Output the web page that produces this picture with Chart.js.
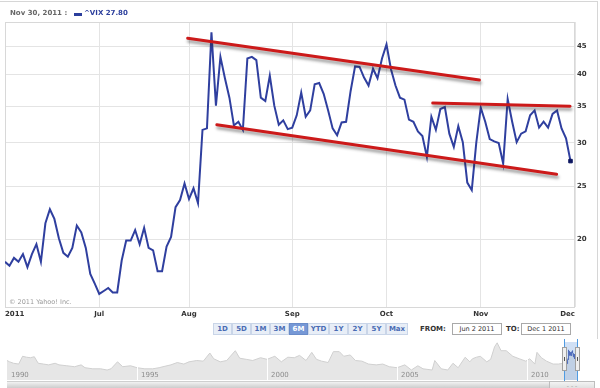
<!DOCTYPE html>
<html><head><meta charset="utf-8">
<script src="https://cdn.jsdelivr.net/npm/chart.js@4.4.1/dist/chart.umd.min.js"></script>
<style>
html,body{margin:0;padding:0;background:#fff;}
body{width:600px;height:388px;position:relative;overflow:hidden;font-family:"DejaVu Sans",Verdana,sans-serif;}
canvas{position:absolute;left:0;}
#main{top:0;}
#nav{top:339px;}
#outer{position:absolute;left:0;top:1px;width:597px;height:337px;border-top:1px solid #d6d6d6;border-right:1px solid #d6d6d6;}
.hdr{position:absolute;top:9px;font-size:7px;font-weight:bold;white-space:nowrap;line-height:9px;}
#copy{position:absolute;left:9px;top:298px;font-size:6.5px;color:#9a9a9a;white-space:nowrap;}
.btn{position:absolute;top:323px;height:10px;line-height:10px;font-size:7px;font-weight:bold;text-align:center;color:#4a6cb4;background:#e8eef7;border:1px solid #c9d5e8;box-sizing:content-box;}
.btn.on{background:#7698d6;color:#fff;border-color:#6a8cc9;}
.lbl{position:absolute;top:324px;font-size:7px;font-weight:bold;color:#333;line-height:10px;}
.box{position:absolute;top:323px;height:10px;line-height:10px;font-size:6.5px;color:#333;text-align:center;border:1px solid #a9a9a9;background:#fff;}
#scroll{position:absolute;left:7px;top:381px;width:542px;height:7px;background:linear-gradient(#f2f2f2,#c6c6c6);border-top:1px solid #cfcfcf;}
#sbtn{position:absolute;left:549px;top:381px;width:44px;height:7px;background:linear-gradient(#f4f4f4,#dcdcdc);border:1px solid #bdbdbd;font-size:6px;line-height:7px;color:#999;text-align:center;}
</style></head><body>
<div id="outer"></div>
<canvas id="main" width="600" height="320"></canvas>
<div class="hdr" style="left:10px;color:#666;">Nov 30, 2011 :</div>
<div style="position:absolute;left:74px;top:13px;width:8px;height:3px;background:#2b3e9c;"></div>
<div class="hdr" style="left:84px;color:#2b3e9c;">^VIX 27.80</div>
<div id="copy">© 2011 Yahoo! Inc.</div>
<div id="toolbar"></div>
<div class="lbl" style="left:420px;">FROM:</div>
<div class="box" style="left:452px;width:48px;">Jun 2 2011</div>
<div class="lbl" style="left:506px;">TO:</div>
<div class="box" style="left:521px;width:48px;">Dec 1 2011</div>
<canvas id="nav" width="600" height="49"></canvas>
<div id="scroll"></div>
<div id="sbtn">- - -</div>
<script>
// ---- main series: VIX daily close, Jun 2 2011 .. Nov 30 2011 (trading-day index) ----
const vixClose = [
 18.2,17.9,18.5,18.2,18.8,17.8,18.8,19.6,18.2,21.4,
 22.7,21.8,20.1,18.9,18.6,19.3,21.2,20.6,19.3,17.3,
 16.6,15.9,16.1,16.3,16.0,16.0,18.3,19.9,19.9,20.8,
 19.6,21.0,19.3,19.1,17.5,17.5,19.4,20.2,22.9,23.6,
 25.3,23.7,24.8,23.3,31.7,31.9,47.8,35.1,43.1,39.4,
 36.3,32.3,32.8,31.7,42.8,43.1,42.5,36.3,35.8,39.8,
 35.1,32.4,33.0,31.8,32.0,33.7,37.1,33.5,34.4,38.4,
 38.6,36.9,34.4,31.9,31.0,32.7,32.8,37.3,41.4,41.3,
 39.5,38.2,41.0,39.4,42.8,45.4,40.9,38.2,36.3,36.0,
 33.1,32.8,31.5,30.9,28.3,33.5,31.7,34.6,34.9,31.2,
 29.5,32.2,30.1,25.4,24.6,30.0,34.8,32.8,30.5,30.2,
 30.0,27.5,36.1,32.8,30.1,31.2,31.5,33.7,34.4,32.0,
 32.8,32.0,33.9,34.4,31.9,30.6,27.8
];
const monthTickIdx = [0,21,41,64,85,106,127];
const monthLabels = ['2011','Jul','Aug','Sep','Oct','Nov','Dec'];
const priceTicks = [20,25,30,35,40,45];
// hand-drawn trend lines (trading-day index, value)
const upperTrendIdx = [40.7,105.7], upperTrendVal = [46.6,39.1];
const lowerTrendIdx = [47.2,122.9], lowerTrendVal = [32.4,26.3];
const flatTrendIdx  = [95.3,125.9], flatTrendVal  = [35.5,35.0];

// ---- navigator: long-term VIX history ----
const navYears = [1990.00,1990.10,1990.25,1990.45,1990.60,1990.75,1990.90,1991.05,1991.20,1991.40,1991.60,1991.85,
 1992.00,1992.30,1992.60,1992.85,1993.00,1993.30,1993.60,1993.85,1994.00,1994.25,1994.45,1994.75,
 1995.00,1995.30,1995.60,1995.85,1996.00,1996.30,1996.55,1996.80,1997.00,1997.30,1997.55,1997.80,1997.95,
 1998.20,1998.45,1998.70,1998.78,1998.95,1999.20,1999.45,1999.75,2000.00,2000.30,2000.55,2000.80,
 2001.05,2001.25,2001.50,2001.72,2001.90,2002.10,2002.35,2002.55,2002.78,2002.95,2003.20,2003.40,2003.65,2003.90,
 2004.20,2004.45,2004.70,2005.00,2005.30,2005.55,2005.80,2006.00,2006.35,2006.45,2006.70,2006.95,
 2007.15,2007.35,2007.62,2007.80,2007.90,2008.05,2008.20,2008.45,2008.60,2008.75,2008.85,2009.00,2009.20,
 2009.45,2009.70,2009.95,2010.10,2010.30,2010.38,2010.55,2010.75,2011.00,2011.20,2011.42];
const navVix = [22,20,18,17,30,28,27,29,18,17,16,18,
 16,15,14,16,13,12,12,11,12,20,14,15,
 13,12,12,13,14,16,19,17,20,22,21,38,25,
 20,22,38,45,26,24,22,27,24,30,20,28,
 27,32,22,40,24,21,19,42,42,30,33,22,21,17,
 16,17,14,13,16,11,15,12,11,22,12,11,
 18,13,28,20,25,28,30,20,24,60,80,45,45,
 30,25,21,25,17,40,27,21,17,17,18];
const navYearTicks = [1990,1995,2000,2005,2010];
const rangeStartYear = 2011.42, rangeEndYear = 2011.92;

const FONT = 'DejaVu Sans';
const toPts = (xs, ys) => xs.map((x,i)=>({x, y: ys[i]}));

// toolbar buttons
const btnLabels = ['1D','5D','1M','3M','6M','YTD','1Y','2Y','5Y','Max'];
const btnWidths = [17,17,17,17,17,19,17,17,17,20];
(function(){
  const tb = document.getElementById('toolbar');
  let x = 213;
  btnLabels.forEach((t,i)=>{
    const d = document.createElement('div');
    d.className = 'btn' + (t==='6M' ? ' on' : '');
    d.style.left = x + 'px';
    d.style.width = btnWidths[i] + 'px';
    d.textContent = t;
    tb.appendChild(d);
    x += btnWidths[i] + 2;
  });
})();

const shadowPlugin = {
  id: 'shadowLines',
  beforeDatasetDraw(chart, args) {
    if (chart.data.datasets[args.index].shadow) {
      const c = chart.ctx; c.save();
      c.shadowColor = 'rgba(40,40,40,0.45)'; c.shadowBlur = 3; c.shadowOffsetX = 1; c.shadowOffsetY = 3;
    }
  },
  afterDatasetDraw(chart, args) {
    if (chart.data.datasets[args.index].shadow) chart.ctx.restore();
  }
};
const framePlugin = {
  id: 'frame',
  beforeDatasetsDraw(chart) {
    const {ctx, chartArea: a} = chart;
    ctx.save(); ctx.strokeStyle = '#d8d8d8'; ctx.lineWidth = 1;
    ctx.strokeRect(Math.round(a.left)+0.5, Math.round(a.top)+0.5, Math.round(a.right-a.left)-1, Math.round(a.bottom-a.top));
    ctx.restore();
  }
};

const trendStyle = {borderColor:'#cc1a1a', borderWidth:3, pointRadius:0, order:1, shadow:true, borderCapStyle:'round'};
new Chart(document.getElementById('main'), {
  type: 'line',
  data: { datasets: [
    { data: vixClose.map((v,i)=>({x:i, y:v})), borderColor:'#2f3f9f', borderWidth:2, tension:0, order:2,
      pointStyle:'rect', pointRadius: c => c.dataIndex === vixClose.length-1 ? 2.5 : 0,
      pointBackgroundColor:'#0c1660', pointBorderColor:'#0c1660', pointBorderWidth:1 },
    Object.assign({ data: toPts(upperTrendIdx, upperTrendVal) }, trendStyle),
    Object.assign({ data: toPts(lowerTrendIdx, lowerTrendVal) }, trendStyle),
    Object.assign({ data: toPts(flatTrendIdx, flatTrendVal) }, trendStyle)
  ]},
  options: {
    responsive:false, animation:false, devicePixelRatio:1, events:[],
    layout: { padding: { left:5, top:22, right:0, bottom:0 } },
    plugins: { legend:{display:false}, tooltip:{enabled:false} },
    scales: {
      x: { type:'linear', min:0, max:127,
        afterBuildTicks: s => { s.ticks = monthTickIdx.map(v=>({value:v})); },
        afterFit: s => { s.height = 13; },
        ticks: { autoSkip:false, maxRotation:0, align:'inner', padding:3, color:'#333',
          font:{family:FONT, size:7, weight:'bold'},
          callback: v => monthLabels[monthTickIdx.indexOf(v)] },
        grid: { color:'#e4e4e4', drawTicks:false }, border: { display:false } },
      y: { type:'logarithmic', position:'right', min:15.05, max:49.9,
        afterBuildTicks: s => { s.ticks = priceTicks.map(v=>({value:v})); },
        afterFit: s => { s.width = 25; },
        ticks: { padding:2, color:'#333', font:{family:FONT, size:7, weight:'bold'}, callback: v => String(v) },
        grid: { color:'#e4e4e4', drawTicks:false }, border: { display:false } }
    }
  },
  plugins: [framePlugin, shadowPlugin]
});

// navigator
const navPlugin = {
  id: 'navDecor',
  afterDatasetsDraw(chart) {
    const {ctx, chartArea: a, scales: {x}} = chart;
    ctx.save();
    navYearTicks.forEach(yr => {
      const px = Math.round(x.getPixelForValue(yr)) + 0.5;
      if (yr !== navYearTicks[0]) {
        ctx.strokeStyle = '#ffffff'; ctx.lineWidth = 1;
        ctx.beginPath(); ctx.moveTo(px, a.top); ctx.lineTo(px, a.bottom); ctx.stroke();
      }
      ctx.fillStyle = '#8c8c8c'; ctx.font = '7px "DejaVu Sans"'; ctx.textBaseline = 'alphabetic';
      ctx.fillText(String(yr), px + 3.5, a.bottom - 3);
    });
    const x1 = x.getPixelForValue(rangeStartYear), x2 = x.getPixelForValue(rangeEndYear);
    ctx.fillStyle = 'rgba(120,165,225,0.35)';
    ctx.fillRect(x1, a.top, x2 - x1, a.bottom - a.top);
    ctx.strokeStyle = '#4f9be2'; ctx.lineWidth = 1;
    [x1, x2].forEach(p => {
      const pp = Math.round(p) + 0.5;
      ctx.beginPath(); ctx.moveTo(pp, 0); ctx.lineTo(pp, 49); ctx.stroke();
    });
    [x1, x2].forEach(p => {
      const hx = Math.round(p) - 2, hy = a.top + 5;
      ctx.fillStyle = '#efefef'; ctx.fillRect(hx, hy, 5, 24);
      ctx.strokeStyle = '#a0a0a0'; ctx.strokeRect(hx + 0.5, hy + 0.5, 4, 23);
      ctx.fillStyle = '#555';
      ctx.fillRect(hx + 2, hy + 10, 1, 4);
    });
    ctx.restore();
  }
};
new Chart(document.getElementById('nav'), {
  type: 'line',
  data: { datasets: [
    { data: toPts(navYears, navVix), borderColor:'#d0d0d0', borderWidth:1, backgroundColor:'#e6e6e6',
      fill:'start', pointRadius:0, tension:0, order:2 },
    { data: vixClose.map((v,i)=>({x: rangeStartYear + i*(rangeEndYear-rangeStartYear)/127, y: v})),
      borderColor:'#3b4fa8', borderWidth:1, backgroundColor:'#e6e6e6', fill:'start', pointRadius:0, tension:0, order:1 }
  ]},
  options: {
    responsive:false, animation:false, devicePixelRatio:1, events:[],
    layout: { padding: { left:7, top:3, right:23, bottom:8 } },
    plugins: { legend:{display:false}, tooltip:{enabled:false} },
    scales: {
      x: { type:'linear', min:1990, max:rangeEndYear, display:false },
      y: { type:'logarithmic', min:5.3, max:85, display:false }
    }
  },
  plugins: [navPlugin]
});
</script>
</body></html>
